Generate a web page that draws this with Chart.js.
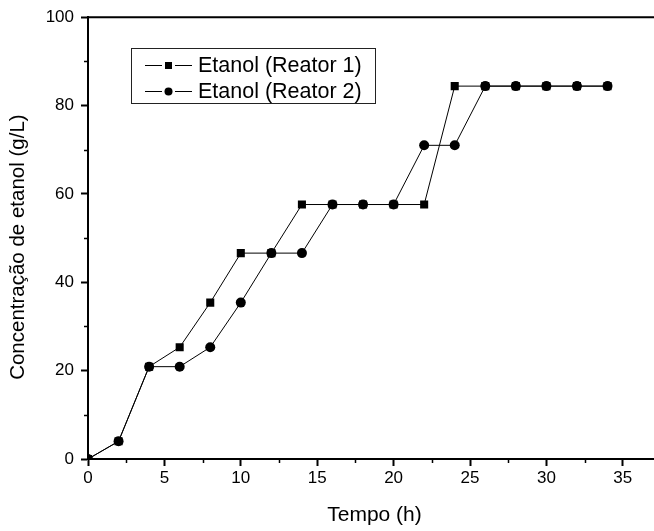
<!DOCTYPE html>
<html>
<head>
<meta charset="utf-8">
<script src="https://cdn.jsdelivr.net/npm/chart.js@4/dist/chart.umd.min.js"></script>
<style>
    html, body { margin: 0; padding: 0; background: #fff; overflow: hidden; }
    canvas { display: block; }
</style>
</head>
<body>
<canvas id="myChart" width="670" height="531"></canvas>
<script>
// dados
const tempo = [0, 2, 4, 6, 8, 10, 12, 14, 16, 18, 20, 22, 24, 26, 28, 30, 32, 34];
const reator1 = [0, 4, 20.9, 25.3, 35.4, 46.6, 46.6, 57.6, 57.6, 57.6, 57.6, 57.6, 84.4, 84.4, 84.4, 84.4, 84.4, 84.4];
const reator2 = [0, 4, 20.9, 20.9, 25.3, 35.4, 46.6, 46.6, 57.6, 57.6, 57.6, 71, 71, 84.4, 84.4, 84.4, 84.4, 84.4];

const xTicks = [0, 5, 10, 15, 20, 25, 30, 35];
const xMinor = [2.5, 7.5, 12.5, 17.5, 22.5, 27.5, 32.5, 37.5];
const yTicks = [0, 20, 40, 60, 80, 100];
const yMinor = [10, 30, 50, 70, 90];

const labels = ['Etanol (Reator 1)', 'Etanol (Reator 2)'];
const yTitle = 'Concentração de etanol (g/L)';
const FONT = "Arial, 'Liberation Sans', sans-serif";

const toPoints = arr => tempo.map((t, i) => ({ x: t, y: arr[i] }));

// moldura (topo e direita) + ticks menores + título do eixo y
const framePlugin = {
    id: 'frame',
    afterDraw(chart) {
        const ctx = chart.ctx;
        const a = chart.chartArea;
        const xs = chart.scales.x, ys = chart.scales.y;
        ctx.save();
        ctx.strokeStyle = '#000';
        ctx.lineWidth = 2;
        ctx.beginPath();
        ctx.moveTo(a.left - 1, a.top);
        ctx.lineTo(a.right, a.top);
        ctx.lineTo(a.right, a.bottom);
        ctx.stroke();

        ctx.lineWidth = 1.5;
        ctx.beginPath();
        xMinor.forEach(v => {
            const px = Math.round(xs.getPixelForValue(v)) + 0.5;
            ctx.moveTo(px, a.bottom);
            ctx.lineTo(px, a.bottom + 4);
        });
        yMinor.forEach(v => {
            const py = Math.round(ys.getPixelForValue(v)) + 0.5;
            ctx.moveTo(a.left, py);
            ctx.lineTo(a.left - 4, py);
        });
        ctx.stroke();

        // título do eixo y (um pouco abaixo do centro, como no original)
        ctx.translate(18, (a.top + a.bottom) / 2 + 9);
        ctx.rotate(-Math.PI / 2);
        ctx.fillStyle = '#000';
        ctx.font = `20.5px ${FONT}`;
        ctx.textAlign = 'center';
        ctx.textBaseline = 'middle';
        ctx.fillText(yTitle, 0, 0);
        ctx.restore();
    }
};

// legenda em caixa, como no original
const legendPlugin = {
    id: 'boxLegend',
    afterDraw(chart) {
        const ctx = chart.ctx;
        ctx.save();
        ctx.strokeStyle = '#222';
        ctx.lineWidth = 1;
        ctx.strokeRect(131.5, 48.5, 244, 55);

        const rows = [65, 91];
        rows.forEach((y, i) => {
            ctx.strokeStyle = '#000';
            ctx.lineWidth = 1;
            ctx.beginPath();
            ctx.moveTo(145, y + 0.5); ctx.lineTo(162, y + 0.5);
            ctx.moveTo(175, y + 0.5); ctx.lineTo(192, y + 0.5);
            ctx.stroke();
            ctx.fillStyle = '#000';
            if (i === 0) {
                ctx.fillRect(165, y - 3, 7, 7);
            } else {
                ctx.beginPath();
                ctx.arc(168.5, y + 0.5, 4, 0, Math.PI * 2);
                ctx.fill();
            }
            ctx.font = `21.5px ${FONT}`;
            ctx.textBaseline = 'middle';
            ctx.textAlign = 'left';
            ctx.fillText(labels[i], 198, y + 1);
        });
        ctx.restore();
    }
};

const ctx = document.getElementById('myChart').getContext('2d');

new Chart(ctx, {
    type: 'line',
    data: {
        datasets: [{
            label: labels[0],
            data: toPoints(reator1),
            borderColor: '#000',
            borderWidth: 1,
            backgroundColor: '#000',
            pointStyle: 'rect',
            pointRadius: 5.7,
            pointBorderWidth: 0,
            order: 1
        }, {
            label: labels[1],
            data: toPoints(reator2),
            borderColor: '#000',
            borderWidth: 1,
            backgroundColor: '#000',
            pointStyle: 'circle',
            pointRadius: 5,
            pointBorderWidth: 0,
            order: 0
        }]
    },
    options: {
        responsive: false,
        animation: false,
        layout: { padding: { top: 17, right: 9, left: 0, bottom: 0 } },
        plugins: {
            legend: { display: false },
            tooltip: { enabled: false }
        },
        scales: {
            x: {
                type: 'linear',
                min: 0,
                max: 37.5,
                afterBuildTicks: s => { s.ticks = xTicks.map(v => ({ value: v })); },
                afterFit: s => { s.height = 72; },
                ticks: { color: '#000', font: { family: FONT, size: 17 }, padding: 2, maxRotation: 0 },
                grid: { drawOnChartArea: false, tickLength: 7, tickWidth: 2, color: '#000' },
                border: { color: '#000', width: 2 },
                title: {
                    display: true, text: 'Tempo (h)', color: '#000',
                    font: { family: FONT, size: 21 }, padding: { top: 0, bottom: 3 }
                }
            },
            y: {
                min: 0,
                max: 100,
                afterBuildTicks: s => { s.ticks = yTicks.map(v => ({ value: v })); },
                afterFit: s => { s.width = 88; },
                ticks: { color: '#000', font: { family: FONT, size: 17 }, padding: 7 },
                grid: { drawOnChartArea: false, tickLength: 7, tickWidth: 2, color: '#000' },
                border: { color: '#000', width: 2 },
                title: { display: false }
            }
        }
    },
    plugins: [framePlugin, legendPlugin]
});
</script>
</body>
</html>
